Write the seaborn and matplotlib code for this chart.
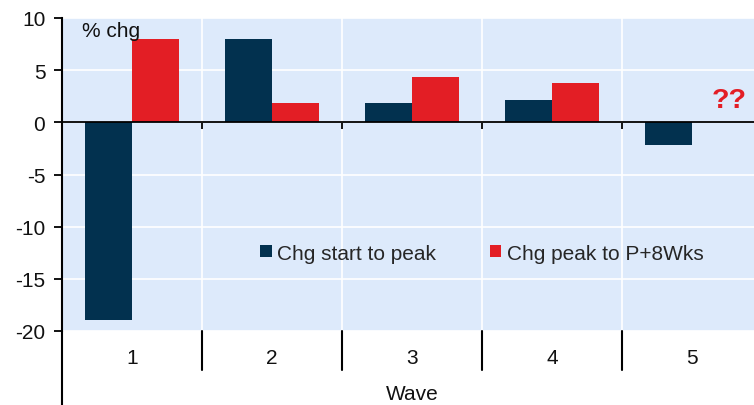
import matplotlib
matplotlib.use("Agg")
import matplotlib.pyplot as plt
import seaborn as sns
import pandas as pd
import numpy as np

waves = ["1", "2", "3", "4", "5"]
start_to_peak = [-18.9, 8.0, 1.85, 2.1, -2.2]
peak_to_p8 = [8.0, 1.9, 4.35, 3.8, np.nan]
series_names = ["Chg start to peak", "Chg peak to P+8Wks"]
yticks = [10, 5, 0, -5, -10, -15, -20]

NAVY = "#02314F"
RED = "#E31E25"
BG = "#DDEAFB"

df = pd.DataFrame({
    "Wave": waves * 2,
    "value": start_to_peak + peak_to_p8,
    "series": [series_names[0]] * 5 + [series_names[1]] * 5,
})

sns.set_theme(style="white")
plt.rcParams["font.family"] = ["Liberation Sans", "DejaVu Sans"]

fig = plt.figure(figsize=(7.54, 4.06), dpi=100)
ax = fig.add_axes([62 / 754, 1 - 332 / 406, 700 / 754, 313 / 406])
ax.set_facecolor(BG)

sns.barplot(data=df, x="Wave", y="value", hue="series", order=waves,
            hue_order=series_names, palette=[NAVY, RED], width=0.67,
            saturation=1, edgecolor="none", ax=ax, legend=True)

ax.set_xlim(-0.5, 4.5)
ax.set_ylim(-20, 10)
ax.set_yticks(yticks)
ax.set_yticklabels([str(v) for v in yticks], fontsize=15, color="#111111")
ax.set_xticks([0.5, 1.5, 2.5, 3.5])
ax.set_xticklabels([])
ax.set_xlabel("")
ax.set_ylabel("")

ax.grid(True, color="white", linewidth=1.2)
ax.set_axisbelow(True)

for s in ["top", "right"]:
    ax.spines[s].set_visible(False)
ax.spines["bottom"].set_position(("data", 0))
ax.spines["bottom"].set_color("black")
ax.spines["bottom"].set_linewidth(1.3)
ax.spines["left"].set_color("black")
ax.spines["left"].set_linewidth(1.5)
ax.tick_params(axis="y", direction="out", length=6, width=1.3, color="black", pad=6, left=True)
ax.tick_params(axis="x", direction="out", length=5, width=1.3, color="black", bottom=True)

# category labels and separators below plot area
xt = ax.get_xaxis_transform()
for i, w in enumerate(waves):
    ax.text(i, -0.085, w, transform=xt, ha="center", va="center", fontsize=15, color="#111111")
for b in [0.5, 1.5, 2.5, 3.5]:
    ax.plot([b, b], [0, -0.125], transform=xt, color="black", lw=1.5, clip_on=False)
ax.plot([-0.5, -0.5], [0, -0.25], transform=xt, color="black", lw=1.5, clip_on=False)
ax.text(2, -0.2, "Wave", transform=xt, ha="center", va="center", fontsize=15, color="#111111")

ax.text(0.029, 0.99, "% chg", transform=ax.transAxes, ha="left", va="top", fontsize=15, color="#111111")
ax.text(4.265, 0.9, "??", ha="center", va="bottom", fontsize=20.5, fontweight="bold", color=RED)

handles, labels = ax.get_legend_handles_labels()
ax.legend(handles, labels, loc="center left", bbox_to_anchor=(0.283, 0.249), ncol=2,
          frameon=False, fontsize=15, handlelength=0.55, handleheight=0.55,
          handletextpad=0.25, columnspacing=2.6, borderpad=0, borderaxespad=0)

fig.savefig("out.png", dpi=100)
